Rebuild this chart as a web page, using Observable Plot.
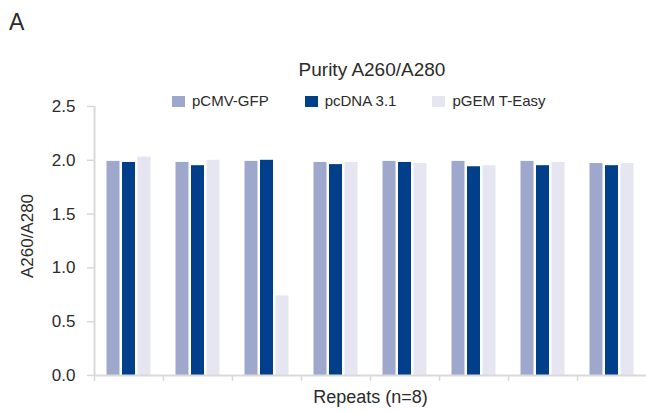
<!DOCTYPE html>
<html>
<head>
<meta charset="utf-8">
<script src="https://cdn.jsdelivr.net/npm/d3@7"></script>
<script src="https://cdn.jsdelivr.net/npm/@observablehq/plot@0.6"></script>
<style>
  html, body { margin: 0; padding: 0; background: #fff; }
  body { font-family: "Liberation Sans", Arial, sans-serif; color: #2b2b2b; }
  #wrap { position: relative; width: 646px; height: 412px; overflow: hidden; }
  #wrap svg { position: absolute; left: 0; top: 0; }
  .panel { position: absolute; left: 9px; top: 10px; font-size: 23px; line-height: 24px; }
  .title { position: absolute; left: 372px; top: 59px; transform: translateX(-50%); font-size: 19px; line-height: 22px; white-space: nowrap; }
  .legend { position: absolute; left: 172px; top: 92px; display: flex; gap: 36px; font-size: 15px; line-height: 18px; }
  .legend .item { display: flex; align-items: center; }
  .legend .sw { width: 13px; height: 11px; margin-right: 7px; }
</style>
</head>
<body>
<div id="wrap">
  <div class="panel">A</div>
  <div class="title">Purity A260/A280</div>
  <div class="legend" id="legend"></div>
</div>
<script>
// ---- data ----
const repeats = ["1", "2", "3", "4", "5", "6", "7", "8"];
const series = ["pCMV-GFP", "pcDNA 3.1", "pGEM T-Easy"];
const pCMV  = [1.99, 1.98, 1.99, 1.98, 1.99, 1.99, 1.99, 1.97];
const pcDNA = [1.98, 1.95, 2.00, 1.96, 1.98, 1.94, 1.95, 1.95];
const pGEM  = [2.03, 2.00, 0.74, 1.98, 1.97, 1.95, 1.98, 1.97];
const yTicks = [0, 0.5, 1.0, 1.5, 2.0, 2.5];
const colors = ["#9EA7CC", "#013F8A", "#E6E6F2"];

const values = [pCMV, pcDNA, pGEM];
const table = series.flatMap((s, k) => repeats.map((r, i) => ({repeat: r, series: s, value: values[k][i]})));

// ---- legend ----
const legend = document.getElementById("legend");
series.forEach((s, k) => {
  const it = document.createElement("div");
  it.className = "item";
  it.innerHTML = `<span class="sw" style="background:${colors[k]}"></span><span>${s}</span>`;
  legend.appendChild(it);
});

// ---- chart ----
const W = 646, H = 412;
const mL = 94, mR = 0;
const bw = (W - mL - mR) / repeats.length;
const barW = 13;
const inset = (bw - barW) / 2;
const offsets = [-15.5, 0, 15.5];
const grey = "#d9d9d9";

const plot = Plot.plot({
  width: W,
  height: H,
  marginLeft: mL,
  marginRight: mR,
  marginTop: 106,
  marginBottom: 37,
  style: {fontFamily: "'Liberation Sans', Arial, sans-serif", fontSize: "17px", color: "#2b2b2b", background: "transparent"},
  x: {domain: repeats, padding: 0, axis: null},
  y: {domain: [0, 2.5], axis: null},
  marks: [
    ...series.map((s, k) => Plot.barY(table.filter(d => d.series === s), {
      x: "repeat", y: "value", fill: colors[k],
      insetLeft: inset, insetRight: inset, dx: offsets[k]
    })),
    Plot.ruleY([0], {stroke: grey, strokeWidth: 2}),
    Plot.ruleX([repeats[0]], {x: d => d, y1: 0, y2: 2.5, dx: -bw / 2, stroke: grey, strokeWidth: 2}),
    Plot.axisX(repeats, {tickSize: 6, tickFormat: () => "", dx: -bw / 2, stroke: grey, strokeWidth: 1.5, label: null}),
    Plot.axisY({ticks: yTicks, tickSize: 7, tickPadding: 12, tickFormat: d3.format(".1f"), stroke: grey, strokeWidth: 1.5, fill: "#2b2b2b", label: null}),
    Plot.text(["Repeats (n=8)"], {frameAnchor: "bottom", dy: 27, fontSize: 18, fill: "#2b2b2b"}),
    Plot.text(["A260/A280"], {frameAnchor: "left", textAnchor: "middle", dx: -67, dy: -5, rotate: -90, fontSize: 17, fill: "#2b2b2b"})
  ]
});
document.getElementById("wrap").insertBefore(plot, document.getElementById("wrap").firstChild);
</script>
</body>
</html>
